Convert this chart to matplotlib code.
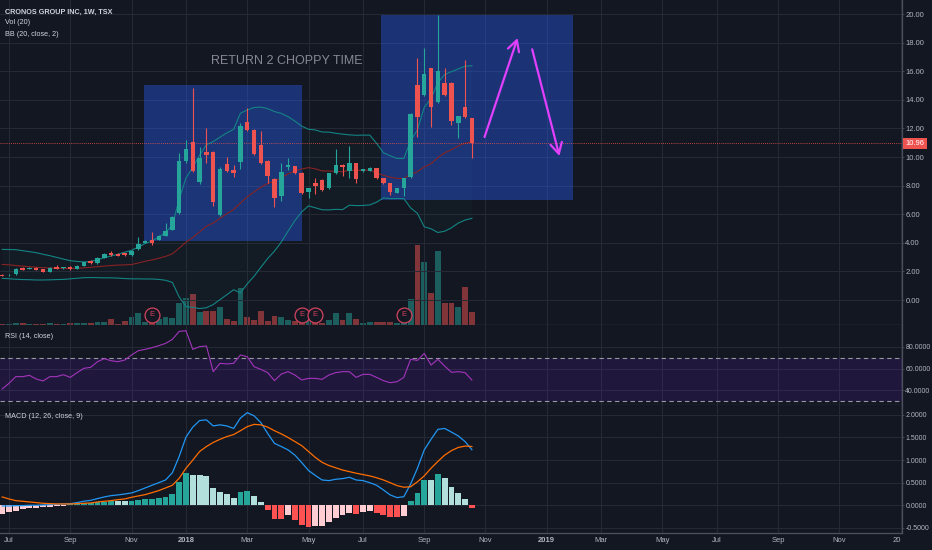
import matplotlib
matplotlib.use("Agg")
import matplotlib.pyplot as plt
import matplotlib.dates as mdates
import matplotlib.transforms as mtransforms
from matplotlib.patches import Rectangle
from matplotlib.ticker import FormatStrFormatter, FixedLocator
import numpy as np
import pandas as pd

plt.rcParams['font.family'] = ['Liberation Sans', 'DejaVu Sans']

# ---------------- data ----------------
first_week = '2017-06-26'
n_weeks = 70

opens = [1.75, 1.72, 1.80, 2.24, 2.18, 2.24, 2.17, 1.98, 2.28, 2.22,
         2.32, 2.20, 2.40, 2.72, 2.58, 2.94, 3.31, 3.22, 3.28, 3.12,
         3.54, 4.01, 4.20, 4.20, 4.50, 4.90, 6.06, 9.74, 11.03, 8.23,
         10.33, 10.37, 5.94, 9.51, 9.09, 9.67, 12.42, 11.89, 10.84, 9.72,
         8.46, 7.27, 9.32, 9.37, 8.90, 7.58, 8.15, 8.39, 7.81, 8.86,
         9.44, 9.04, 9.55, 9.02, 9.04, 9.21, 8.51, 8.15, 7.50, 7.81,
         8.62, 15.03, 14.34, 16.20, 13.87, 15.15, 15.20, 12.40, 13.48, 12.70]
highs = [1.80, 1.82, 2.22, 2.34, 2.30, 2.28, 2.20, 2.30, 2.42, 2.32,
         2.38, 2.44, 2.68, 2.78, 2.98, 3.28, 3.45, 3.26, 3.32, 3.50,
         4.43, 4.20, 4.78, 4.55, 5.36, 5.90, 10.30, 11.20, 14.85, 10.72,
         12.00, 10.40, 9.30, 9.98, 9.44, 12.36, 13.40, 11.95, 11.84, 9.80,
         8.55, 9.56, 9.90, 9.40, 8.95, 7.85, 8.51, 8.44, 8.90, 10.56,
         9.50, 10.77, 9.58, 9.18, 9.30, 9.25, 8.55, 8.18, 7.85, 8.55,
         13.05, 16.90, 17.60, 16.25, 19.93, 16.20, 15.25, 12.90, 16.78, 12.75]
lows = [1.65, 1.68, 1.78, 2.08, 2.14, 2.08, 1.95, 1.95, 2.18, 2.20,
        2.12, 2.18, 2.38, 2.52, 2.55, 2.92, 3.08, 3.06, 3.10, 3.10,
        3.52, 3.98, 3.85, 4.18, 4.48, 4.88, 6.00, 9.60, 8.95, 8.10,
        9.56, 6.57, 5.90, 8.95, 8.62, 9.18, 11.80, 10.15, 9.50, 8.16,
        6.53, 6.90, 9.09, 8.82, 7.40, 7.11, 7.41, 7.65, 7.78, 8.83,
        8.67, 8.51, 8.15, 8.98, 9.00, 8.48, 8.10, 7.34, 7.46, 7.27,
        8.55, 11.42, 14.30, 12.12, 13.80, 14.30, 12.24, 11.31, 12.70, 9.91]
closes = [1.70, 1.78, 2.17, 2.12, 2.26, 2.12, 1.98, 2.26, 2.20, 2.28,
          2.16, 2.40, 2.65, 2.56, 2.94, 3.22, 3.12, 3.10, 3.14, 3.45,
          3.92, 4.15, 4.01, 4.50, 4.85, 5.83, 9.74, 10.56, 9.00, 9.95,
          10.12, 6.83, 9.18, 9.04, 8.86, 12.17, 11.89, 10.21, 9.56, 8.67,
          7.16, 8.97, 9.42, 8.86, 7.51, 7.81, 7.97, 7.69, 8.86, 9.44,
          9.32, 9.55, 8.46, 9.14, 9.25, 8.51, 8.15, 7.57, 7.81, 8.51,
          13.01, 12.77, 15.80, 13.52, 16.01, 14.34, 12.54, 12.87, 12.77, 10.96]
volumes = [0.7, 1.0, 1.7, 1.7, 1.0, 0.7, 0.5, 1.7, 1.3, 1.0,
           2.3, 2.3, 2.3, 1.7, 3.3, 3.0, 6.0, 1.0, 3.7, 7.7,
           11.7, 3.3, 3.3, 5.7, 7.7, 7.0, 21.7, 26.7, 31.0, 13.0,
           14.3, 14.0, 18.0, 5.7, 3.5, 36.7, 7.7, 5.3, 14.0, 4.3,
           9.0, 8.0, 5.0, 3.7, 2.7, 5.0, 3.7, 1.7, 5.0, 11.7,
           5.0, 11.7, 6.3, 1.7, 3.0, 3.0, 3.0, 3.0, 2.3, 3.0,
           26.3, 80.0, 63.0, 32.3, 73.7, 21.7, 21.7, 18.3, 37.7, 12.7]
bb_upper = [3.54, 3.53, 3.52, 3.45, 3.38, 3.31, 3.20, 3.10, 2.98, 2.86,
            2.75, 2.70, 2.66, 2.70, 2.82, 2.96, 3.08, 3.20, 3.34, 3.48,
            3.70, 3.95, 4.13, 4.40, 4.72, 5.23, 7.05, 8.54, 9.28, 10.12,
            10.86, 11.08, 11.39, 11.69, 11.94, 13.06, 13.29, 13.46, 13.49, 13.38,
            13.18, 13.05, 12.82, 12.51, 12.16, 11.94, 11.89, 11.75, 11.74, 11.66,
            11.60, 11.55, 11.52, 11.53, 11.53, 10.96, 10.30, 10.09, 9.90, 9.90,
            11.14, 11.90, 13.47, 14.08, 15.20, 15.77, 15.97, 16.16, 16.35, 16.38]
bb_basis = [2.49, 2.46, 2.41, 2.37, 2.33, 2.29, 2.26, 2.24, 2.22, 2.21,
            2.21, 2.22, 2.25, 2.29, 2.33, 2.37, 2.41, 2.44, 2.46, 2.48,
            2.59, 2.71, 2.80, 2.92, 3.05, 3.23, 3.63, 4.04, 4.38, 4.76,
            5.16, 5.38, 5.71, 6.03, 6.33, 6.78, 7.21, 7.56, 7.89, 8.14,
            8.30, 8.55, 8.82, 9.03, 9.16, 9.26, 9.17, 9.03, 9.02, 9.00,
            8.96, 9.09, 9.06, 9.07, 9.09, 8.90, 8.72, 8.59, 8.50, 8.49,
            8.79, 8.98, 9.30, 9.53, 9.96, 10.29, 10.51, 10.77, 10.97, 11.04]
bb_lower = [1.51, 1.49, 1.45, 1.43, 1.42, 1.40, 1.40, 1.41, 1.43, 1.44,
            1.48, 1.52, 1.56, 1.57, 1.56, 1.55, 1.55, 1.53, 1.50, 1.48,
            1.48, 1.47, 1.47, 1.44, 1.38, 1.23, 0.21, -0.46, -0.52, -0.60,
            -0.54, -0.32, 0.03, 0.37, 0.72, 0.50, 1.13, 1.66, 2.29, 2.90,
            3.42, 4.05, 4.82, 5.55, 6.16, 6.58, 6.45, 6.31, 6.30, 6.34,
            6.32, 6.63, 6.60, 6.61, 6.65, 6.84, 7.14, 7.09, 7.10, 7.09,
            6.44, 6.06, 5.12, 4.98, 4.72, 4.81, 5.05, 5.38, 5.59, 5.71]
rsi = [41.1, 46.3, 52.5, 52.5, 53.7, 50.3, 48.5, 52.5, 52.5, 54.3,
       51.8, 56.2, 60.2, 61.1, 66.3, 69.1, 67.2, 66.3, 67.8, 72.5,
       76.5, 77.7, 79.2, 81.1, 83.2, 86.9, 94.3, 94.9, 77.7, 80.2,
       80.8, 57.1, 64.8, 64.2, 64.8, 72.5, 70.9, 61.7, 59.2, 56.2,
       48.8, 54.9, 57.1, 54.0, 49.4, 50.9, 50.9, 50.0, 54.0, 56.2,
       57.1, 57.1, 51.8, 54.6, 54.6, 51.8, 48.8, 46.9, 47.8, 51.8,
       68.5, 67.5, 74.0, 63.2, 68.5, 62.3, 56.5, 57.1, 56.2, 49.4]
macd = [-0.015, -0.015, -0.007, -0.007, 0.0, 0.0, 0.007, 0.015, 0.022, 0.03,
        0.037, 0.059, 0.089, 0.11, 0.148, 0.185, 0.214, 0.229, 0.25, 0.273,
        0.325, 0.384, 0.443, 0.50, 0.56, 0.72, 1.08, 1.51, 1.73, 1.875,
        1.89, 1.756, 1.78, 1.756, 1.70, 1.93, 2.05, 1.98, 1.83, 1.59,
        1.37, 1.30, 1.225, 1.11, 0.945, 0.77, 0.66, 0.56, 0.546, 0.576,
        0.59, 0.62, 0.56, 0.546, 0.50, 0.443, 0.34, 0.229, 0.17, 0.19,
        0.47, 0.82, 1.225, 1.46, 1.68, 1.70, 1.62, 1.535, 1.41, 1.23]
macd_signal = [0.185, 0.14, 0.103, 0.089, 0.074, 0.059, 0.044, 0.037, 0.03, 0.03,
               0.03, 0.037, 0.044, 0.052, 0.074, 0.089, 0.103, 0.125, 0.14, 0.177,
               0.207, 0.236, 0.28, 0.325, 0.384, 0.443, 0.598, 0.82, 1.00, 1.19,
               1.30, 1.39, 1.46, 1.52, 1.565, 1.65, 1.74, 1.79, 1.78, 1.73,
               1.65, 1.58, 1.50, 1.41, 1.32, 1.19, 1.06, 0.95, 0.88, 0.83,
               0.78, 0.745, 0.71, 0.68, 0.65, 0.61, 0.56, 0.50, 0.435, 0.40,
               0.41, 0.52, 0.65, 0.82, 0.97, 1.11, 1.21, 1.28, 1.31, 1.30]
macd_hist = [-0.19, -0.14, -0.12, -0.08, -0.06, -0.05, -0.044, -0.037, -0.015, -0.005,
             0.022, 0.037, 0.044, 0.059, 0.066, 0.081, 0.103, 0.089, 0.089, 0.103,
             0.118, 0.148, 0.15, 0.162, 0.177, 0.25, 0.52, 0.71, 0.67, 0.665,
             0.65, 0.38, 0.30, 0.24, 0.155, 0.30, 0.325, 0.21, 0.066, -0.10,
             -0.30, -0.31, -0.21, -0.325, -0.435, -0.47, -0.46, -0.45, -0.38, -0.29,
             -0.21, -0.16, -0.19, -0.14, -0.135, -0.18, -0.21, -0.25, -0.27, -0.24,
             0.10, 0.28, 0.56, 0.55, 0.69, 0.61, 0.41, 0.27, 0.15, -0.066]
earnings_idx = [22, 44, 46, 59]
last_price = 10.96
tick_dates = ['2017-07-03', '2017-09-04', '2017-11-06', '2018-01-01', '2018-03-05',
              '2018-05-07', '2018-07-02', '2018-09-03', '2018-11-05', '2019-01-07',
              '2019-03-04', '2019-05-06', '2019-07-01', '2019-09-02', '2019-11-04',
              '2020-01-06']
tick_labels = ['Jul', 'Sep', 'Nov', '2018', 'Mar', 'May', 'Jul', 'Sep', 'Nov', '2019',
               'Mar', 'May', 'Jul', 'Sep', 'Nov', '20']
price_ticks = [0, 2, 4, 6, 8, 10, 12, 14, 16, 18, 20]
rsi_ticks = [40, 60, 80]
macd_ticks = [-0.5, 0.0, 0.5, 1.0, 1.5, 2.0]

# ---------------- style ----------------
BG = '#131722'
GRID = '#262a36'
SEP = '#4c505c'
TXT = '#b2b5be'
UP = '#26a69a'
DOWN = '#ef5350'
FS = 5.5

W, H = 932, 550
fig = plt.figure(figsize=(W / 100, H / 100), dpi=100, facecolor=BG)


def rect(x0, y0, x1, y1):
    return [x0 / W, 1 - y1 / H, (x1 - x0) / W, (y1 - y0) / H]


ax_vol = fig.add_axes(rect(0, 0, 902, 325))
ax = fig.add_axes(rect(0, 0, 902, 325), sharex=ax_vol)
ax_rsi = fig.add_axes(rect(0, 325, 902, 405), sharex=ax_vol)
ax_macd = fig.add_axes(rect(0, 405, 902, 533), sharex=ax_vol)
ax_vol.set_axis_off()
ax.set_facecolor('none')
for a in (ax_rsi, ax_macd):
    a.set_facecolor(BG)

dates = pd.date_range(first_week, periods=n_weeks, freq='7D')
x = mdates.date2num(dates.values)
o = np.array(opens); h = np.array(highs); l = np.array(lows); c = np.array(closes)
up = c >= o
colors = np.where(up, UP, DOWN)

base = mdates.date2num(np.datetime64('2017-07-03'))
ax.set_xlim(base - 9.25, base + 918.3)

# volume overlay
ax_vol.bar(x, volumes, width=6.0, color=colors, alpha=0.5, linewidth=0)
ax_vol.set_ylim(0, max(volumes) * 4.06)

# main panel
ax.set_ylim(-1.748, 20.98)
ax.fill_between(x, bb_lower, bb_upper, color='#198787', alpha=0.04, linewidth=0, zorder=1)


def dnum(s):
    return mdates.date2num(np.datetime64(s))


ax.add_patch(Rectangle((dnum('2017-11-19'), 4.13), dnum('2018-04-30') - dnum('2017-11-19'),
                       15.03 - 4.13, facecolor='#2962ff', alpha=0.38, edgecolor='none', zorder=1))
ax.add_patch(Rectangle((dnum('2018-07-21'), 6.99), dnum('2019-02-03') - dnum('2018-07-21'),
                       19.93 - 6.99, facecolor='#2962ff', alpha=0.38, edgecolor='none', zorder=1))
ax.plot(x, bb_upper, color='#138484', lw=0.8, zorder=2)
ax.plot(x, bb_lower, color='#138484', lw=0.8, zorder=2)
ax.plot(x, bb_basis, color='#872323', lw=0.8, zorder=2)
ax.axhline(last_price, color=DOWN, lw=0.6, ls=(0, (1, 1.5)), zorder=2)

ax.vlines(x, l, h, colors=colors, lw=0.8, zorder=3)
ax.bar(x, np.maximum(np.abs(c - o), 0.06), bottom=np.minimum(o, c), width=4.6,
       color=colors, linewidth=0, zorder=4)

# earnings markers
etrans = mtransforms.blended_transform_factory(ax.transData, ax.transAxes)
ex = x[earnings_idx]
ax.scatter(ex, [0.031] * len(ex), s=115, facecolors=BG, edgecolors='#d2435e',
           linewidths=0.9, transform=etrans, zorder=6)
for xi in ex:
    ax.text(xi, 0.031, 'E', color='#d2435e', fontsize=5.5, ha='center', va='center',
            transform=etrans, zorder=7)

# annotations
ax.text(dnum('2018-04-15'), 16.68, 'RETURN 2 CHOPPY TIME',
        color='#868993', fontsize=9, ha='center', va='center', zorder=5)
arrow_kw = dict(arrowstyle='->,head_length=0.55,head_width=0.3', color='#e040fb', lw=1.6,
                mutation_scale=14, shrinkA=0, shrinkB=0)
ax.annotate('', xy=(dnum('2018-12-08'), 18.32), xytext=(dnum('2018-11-04'), 11.40),
            arrowprops=arrow_kw, zorder=8)
ax.annotate('', xy=(dnum('2019-01-20'), 10.07), xytext=(dnum('2018-12-23'), 17.53),
            arrowprops=arrow_kw, zorder=8)

# price label
ptrans = mtransforms.blended_transform_factory(ax.transAxes, ax.transData)
ax.text(1.004, last_price, f'{last_price:.2f}', transform=ptrans, color='white',
        fontsize=FS, ha='left', va='center', clip_on=False, zorder=10,
        bbox=dict(facecolor=DOWN, edgecolor='none', pad=1.6))

# RSI panel
ax_rsi.set_ylim(26.3, 100.2)
ax_rsi.axhspan(30, 70, color='#7e1fff', alpha=0.12, linewidth=0, zorder=1)
ax_rsi.axhline(70, color='#9598a1', lw=0.8, ls=(0, (4, 3)), zorder=2)
ax_rsi.axhline(30, color='#9598a1', lw=0.8, ls=(0, (4, 3)), zorder=2)
ax_rsi.plot(x, rsi, color='#a335bb', lw=0.8, zorder=3)

# MACD panel
ax_macd.set_ylim(-0.613, 2.219)
hist = np.array(macd_hist)
prev = np.concatenate([[hist[0] - 1e-3], hist[:-1]])
hcolors = np.where(hist >= 0, np.where(prev < hist, '#26a69a', '#b2dfdb'),
                   np.where(prev < hist, '#ffcdd2', '#ff5252'))
ax_macd.bar(x, hist, width=6.0, color=hcolors, linewidth=0, zorder=2)
ax_macd.plot(x, macd, color='#2196f3', lw=0.9, zorder=3)
ax_macd.plot(x, macd_signal, color='#ff6d00', lw=0.9, zorder=3)

# axes styling
for a, ticks, fmt, fs in ((ax, price_ticks, '%.2f', FS), (ax_rsi, rsi_ticks, '%.4f', 5.0),
                          (ax_macd, macd_ticks, '%.4f', 5.0)):
    a.yaxis.tick_right()
    a.yaxis.set_major_locator(FixedLocator(ticks))
    a.yaxis.set_major_formatter(FormatStrFormatter(fmt))
    a.tick_params(axis='y', which='both', length=1.6, width=0.6, color=SEP,
                  labelsize=fs, labelcolor=TXT, pad=0.8)
    a.grid(True, color=GRID, lw=0.7, zorder=0)
    a.set_axisbelow(True)
    for side in ('left', 'top'):
        a.spines[side].set_visible(False)
    for side in ('right', 'bottom'):
        a.spines[side].set_color(SEP)
        a.spines[side].set_linewidth(0.9)

ax_macd.set_xticks(mdates.date2num(pd.to_datetime(tick_dates).values))
ax_macd.set_xticklabels(tick_labels)
ax_macd.tick_params(axis='x', length=0, pad=3, labelsize=FS, labelcolor=TXT)
for lab in ax_macd.get_xticklabels():
    if lab.get_text() in ('2018', '2019'):
        lab.set_fontweight('bold')
    if lab.get_text() == '20':
        lab.set_horizontalalignment('right')
for a in (ax, ax_rsi):
    a.tick_params(axis='x', length=0, labelbottom=False)

# panel titles
fig.text(5 / W, 1 - 12 / H, 'CRONOS GROUP INC, 1W, TSX', color='#d1d4dc', fontsize=5.2,
         fontweight='bold', va='center', ha='left')
fig.text(5 / W, 1 - 23 / H, 'Vol (20)', color='#d1d4dc', fontsize=5.2, va='center', ha='left')
fig.text(5 / W, 1 - 34 / H, 'BB (20, close, 2)', color='#d1d4dc', fontsize=5.2, va='center', ha='left')
fig.text(5 / W, 1 - 337 / H, 'RSI (14, close)', color='#d1d4dc', fontsize=5.2, va='center', ha='left')
fig.text(5 / W, 1 - 417 / H, 'MACD (12, 26, close, 9)', color='#d1d4dc', fontsize=5.2,
         va='center', ha='left')

fig.savefig('out.png', dpi=100, facecolor=BG)
